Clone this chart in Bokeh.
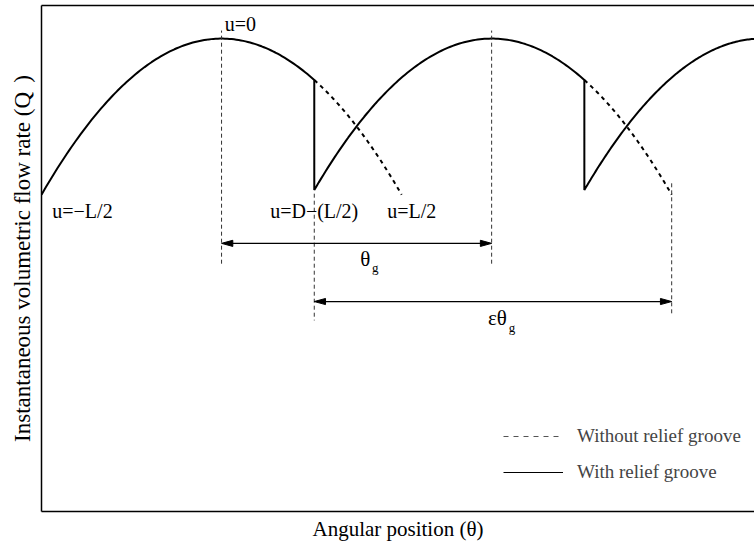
import numpy as np
from bokeh.plotting import figure
from bokeh.models import (Range1d, LinearAxis, FixedTicker, Label, Legend,
                          LegendItem)
from bokeh.embed import file_html
from bokeh.resources import INLINE

# Gear-pump delivery cycle, angular positions in degrees
peak_angles = [20.0, 50.0, 80.0]   # u = 0 for each successive tooth
half_contact = 20.0                # L/2
groove_u = 10.3                    # D - (L/2): where the relief groove opens
q_max = 1.0                        # flow rate at u = 0
q_edge = 0.67                      # flow rate at u = +/- L/2
x_end = 79.2

SERIF = "Liberation Serif"


def flow(theta, peak):
    u = (theta - peak) / half_contact
    return q_max - (q_max - q_edge) * u ** 2


# relief groove hands the delivery over to the next tooth
switch_angles = [pk + groove_u for pk in peak_angles[:-1]]

# with relief groove: each tooth delivers until the next one takes over
solid_x, solid_y = [], []
starts = [0.0] + switch_angles
ends = switch_angles + [x_end]
for pk, a, b in zip(peak_angles, starts, ends):
    th = np.linspace(a, b, 120)
    solid_x.extend(th)
    solid_y.extend(flow(th, pk))

p = figure(width=754, height=545, x_range=Range1d(0, x_end),
           y_range=Range1d(0, 1.07), output_backend="svg",
           toolbar_location=None, min_border_left=41, min_border_right=0,
           min_border_top=5, min_border_bottom=34, outline_line_color=None)
p.grid.visible = False

for ax in (p.xaxis[0], p.yaxis[0]):
    ax.ticker = FixedTicker(ticks=[])
    ax.major_tick_out = 0
    ax.major_tick_in = 0
    ax.minor_tick_out = 0
    ax.minor_tick_in = 0
    ax.major_label_text_font_size = "0px"
    ax.major_label_standoff = 0
    ax.axis_line_width = 1.5
    ax.axis_label_text_font = SERIF
    ax.axis_label_text_font_style = "normal"
    ax.axis_label_text_color = "black"

p.xaxis.axis_label = "Angular position (θ)"
p.xaxis.axis_label_text_font_size = "21px"
p.xaxis.axis_label_standoff = 5
p.yaxis.axis_label = "Instantaneous volumetric flow rate (Q\u2009\u2009)"
p.yaxis.axis_label_text_font_size = "23px"
p.yaxis.axis_label_standoff = 7

top = LinearAxis(ticker=FixedTicker(ticks=[]), major_tick_out=0,
                 major_tick_in=0, minor_tick_out=0, minor_tick_in=0,
                 major_label_text_font_size="0px", major_label_standoff=0,
                 axis_line_width=1.5)
p.add_layout(top, "above")

# without relief groove: continuation of each tooth up to u = L/2
for pk, a in zip(peak_angles, switch_angles):
    th = np.linspace(a, pk + half_contact, 60)
    p.line(th, flow(th, pk), line_color="black", line_width=2,
           line_dash="4 4")

p.line(solid_x, solid_y, line_color="black", line_width=2)

# reference lines
guide = dict(line_color="#333333", line_width=1, line_dash="4 3")
p.segment(x0=peak_angles[:2], y0=[0.524, 0.524], x1=peak_angles[:2],
          y1=[1.017, 1.017], **guide)
p.segment(x0=[switch_angles[0], peak_angles[1] + half_contact],
          y0=[0.672, 0.694],
          x1=[switch_angles[0], peak_angles[1] + half_contact],
          y1=[0.404, 0.414], **guide)

# pitch arrows with slim filled heads
head_len, head_half = 1.25, 0.0065
arrows = [(peak_angles[0], peak_angles[1], 0.567),
          (switch_angles[0], peak_angles[1] + half_contact, 0.444)]
hx, hy = [], []
for x0, x1, y in arrows:
    p.segment(x0=[x0 + head_len * 0.5], y0=[y], x1=[x1 - head_len * 0.5],
              y1=[y], line_color="black", line_width=1.3)
    hx.append([x0, x0 + head_len, x0 + head_len])
    hy.append([y, y + head_half, y - head_half])
    hx.append([x1, x1 - head_len, x1 - head_len])
    hy.append([y, y + head_half, y - head_half])
p.patches(hx, hy, fill_color="black", line_color="black", line_width=1)


def note(x, y, text, size="20px", align="left", base="middle"):
    p.add_layout(Label(x=x, y=y, text=text, text_font=SERIF,
                       text_font_size=size, text_align=align,
                       text_baseline=base, text_color="black"))


note(peak_angles[0] + 0.35, 1.03, "u=0")
note(1.2, 0.636, "u=\u2212L/2")
note(switch_angles[0] - 4.9, 0.636, "u=D\u2212(L/2)")
note(peak_angles[0] + half_contact - 1.6, 0.636, "u=L/2")

note(35.4, 0.535, "θ", size="21px")
note(36.7, 0.515, "g", size="13px")
note(49.6, 0.410, "εθ", size="21px")
note(51.9, 0.390, "g", size="13px")

# legend samples (kept outside the visible range)
r_dash = p.line([-10, -9], [-1, -1], line_color="#555555", line_width=1,
                line_dash="5 5")
r_solid = p.line([-10, -9], [-1, -1], line_color="black", line_width=1)
legend = Legend(items=[LegendItem(label="Without relief groove",
                                  renderers=[r_dash]),
                       LegendItem(label="With relief groove",
                                  renderers=[r_solid])],
                location=(462, 28), border_line_color=None,
                background_fill_alpha=0, padding=0, margin=0,
                glyph_width=60, glyph_height=20, label_standoff=14,
                spacing=14, label_text_font=SERIF,
                label_text_font_size="19px", label_height=20)
p.add_layout(legend)

open("out.html", "w").write(file_html(p, INLINE))
